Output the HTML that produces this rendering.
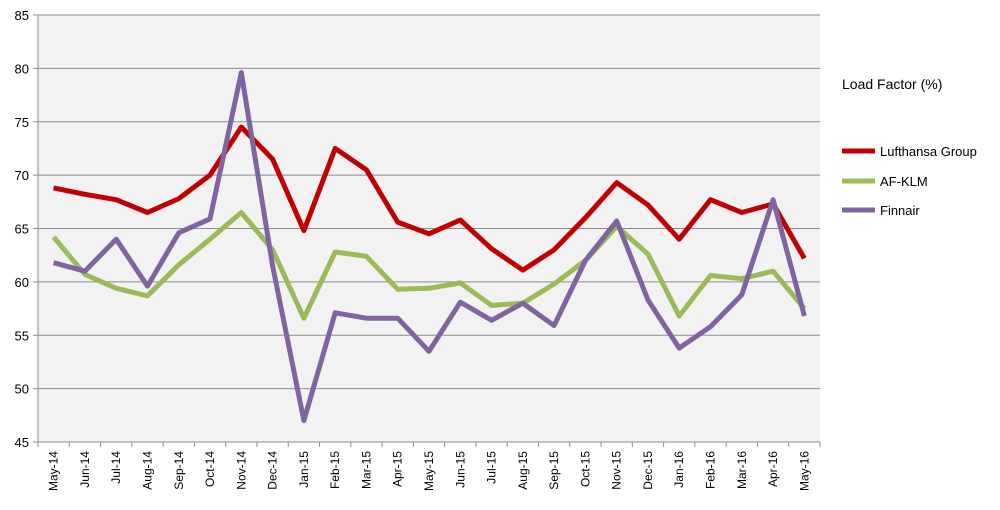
<!DOCTYPE html>
<html><head><meta charset="utf-8">
<style>
html,body{margin:0;padding:0;background:#fff;}
svg{display:block;font-family:"Liberation Sans",Arial,sans-serif;}
</style></head>
<body>
<svg id="chart" width="1000" height="510" viewBox="0 0 1000 510">
<rect x="38" y="15" width="782" height="427" fill="#f2f2f2"/>
<g id="grid"></g>
<g id="axes"></g>
<g id="series"></g>
<g>
<text x="842" y="89" font-size="14" fill="#000">Load Factor (%)</text>
<g><line x1="842" x2="875" y1="151" y2="151" stroke="#c00000" stroke-width="5"/><text x="880" y="156" font-size="13">Lufthansa Group</text></g>
<g><line x1="842" x2="875" y1="181" y2="181" stroke="#9bbb59" stroke-width="5"/><text x="880" y="186" font-size="13">AF-KLM</text></g>
<g><line x1="842" x2="875" y1="210" y2="210" stroke="#8064a2" stroke-width="5"/><text x="880" y="215" font-size="13">Finnair</text></g>
</g>
</svg>
<script>
const categories=["May-14","Jun-14","Jul-14","Aug-14","Sep-14","Oct-14","Nov-14","Dec-14","Jan-15","Feb-15","Mar-15","Apr-15","May-15","Jun-15","Jul-15","Aug-15","Sep-15","Oct-15","Nov-15","Dec-15","Jan-16","Feb-16","Mar-16","Apr-16","May-16"];
const lufthansa=[68.8,68.2,67.7,66.5,67.8,70,74.5,71.5,64.8,72.5,70.5,65.6,64.5,65.8,63.1,61.1,63,66,69.3,67.2,64,67.7,66.5,67.3,62.2];
const afklm=[64.2,60.7,59.4,58.7,61.6,64,66.5,63,56.6,62.8,62.4,59.3,59.4,59.9,57.8,58,59.8,62,65.2,62.6,56.8,60.6,60.3,61,57.5];
const finnair=[61.8,61,64,59.6,64.6,65.9,79.6,61.5,47,57.1,56.6,56.6,53.5,58.1,56.4,58,55.9,62,65.7,58.3,53.8,55.8,58.8,67.7,56.8];
const yTicks=[45,50,55,60,65,70,75,80,85];
const NS="http://www.w3.org/2000/svg";
const L=38,R=820,T=15,B=442,YMIN=45,YMAX=85;
const step=(R-L)/categories.length;
function xPos(i){return L+step*(i+0.5);}
function yPos(v){return B-(v-YMIN)/(YMAX-YMIN)*(B-T);}
function mk(tag,attrs,parent){const e=document.createElementNS(NS,tag);for(const k in attrs)e.setAttribute(k,attrs[k]);parent.appendChild(e);return e;}
const grid=document.getElementById('grid'),axes=document.getElementById('axes'),series=document.getElementById('series');
yTicks.forEach(v=>{
  const y=yPos(v);
  if(v>YMIN){const g=mk('line',{x1:L,x2:R,y1:y,y2:y,stroke:'#8c8c8c','stroke-width':1},grid);
  
  }
  const tk=mk('line',{x1:L-5,x2:L,y1:y,y2:y,stroke:'#8c8c8c'},axes);
  const t=mk('text',{x:L-9,y:y+5,'font-size':13,'text-anchor':'end',fill:'#000'},axes);
  t.textContent=v;
  
  
});
const ya=mk('line',{x1:L,x2:L,y1:T,y2:B,stroke:'#8c8c8c'},axes);


const xa=mk('line',{x1:L,x2:R,y1:B,y2:B,stroke:'#8c8c8c'},axes);


for(let i=0;i<=categories.length;i++){const x=L+step*i;mk('line',{x1:x,x2:x,y1:B,y2:B+5,stroke:'#8c8c8c'},axes);}
categories.forEach((c,i)=>{
  const x=xPos(i)+4,y=B+9;
  const t=mk('text',{x:x,y:y,'font-size':12,'text-anchor':'end',transform:'rotate(-90 '+x+' '+y+')',fill:'#000'},axes);
  t.textContent=c;
  
  
});
function drawLine(vals,color,name){
  const pts=vals.map((v,i)=>xPos(i).toFixed(1)+','+yPos(v).toFixed(1)).join(' ');
  const p=mk('polyline',{points:pts,fill:'none',stroke:color,'stroke-width':5,'stroke-linejoin':'round'},series);
  
  
}
drawLine(lufthansa,'#c00000','series-lufthansa-group');
drawLine(afklm,'#9bbb59','series-af-klm');
drawLine(finnair,'#8064a2','series-finnair');
</script>
</body></html>
